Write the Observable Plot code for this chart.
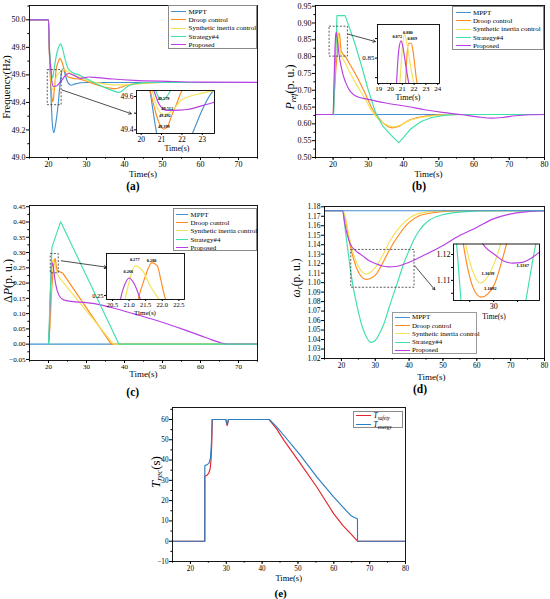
<!DOCTYPE html>
<html>
<head>
<meta charset="utf-8">
<script src="https://cdn.jsdelivr.net/npm/d3@7"></script>
<script src="https://cdn.jsdelivr.net/npm/@observablehq/plot@0.6"></script>
<style>
  body { margin: 0; background: white; }
  #fig { position: relative; width: 550px; height: 599px; background: white; overflow: hidden; font-family: "Liberation Serif", "Times New Roman", serif; }
  .lbl { position: absolute; white-space: nowrap; line-height: 1; color: black; }
  .lbl sub { font-size: 0.68em; vertical-align: -0.28em; line-height: 0; }
  .leg { position: absolute; background: white; box-sizing: border-box; font-family: "Liberation Serif", serif; color: black; }
  .leg .row { display: flex; align-items: center; white-space: nowrap; }
  .leg .sw { display: inline-block; flex: none; }
  .leg sub { font-size: 0.7em; vertical-align: -0.3em; line-height: 0; }
</style>
</head>
<body>
<div id="fig"></div>
<script>
// ---------------- series ----------------
const seriesNames = ["MPPT", "Droop control", "Synthetic inertia control", "Strategy#4", "Proposed"];
const seriesColors = ["#4391d1", "#ff8a1f", "#f3e258", "#3fe0aa", "#b83fe4"];

// (a) frequency (Hz) : [time, value]
const aMPPT = [[15,50],[20,50],[20.2,49.8],[20.43,49.636],[20.76,49.378],[21.0,49.25],[21.4,49.18],[21.8,49.23],[22.51,49.378],[23.0,49.52],[23.58,49.636],[23.9,49.645],[24.4,49.6],[25.2,49.54],[26,49.525],[27,49.535],[30,49.545],[75,49.545]];
const aDroop = [[15,50],[20,50],[20.15,49.82],[20.46,49.626],[20.62,49.546],[20.85,49.45],[21.1,49.405],[21.3,49.42],[21.44,49.466],[21.77,49.566],[22.0,49.636],[22.5,49.69],[23.0,49.72],[23.6,49.69],[24.3,49.625],[25.2,49.585],[26.5,49.575],[28,49.57],[30,49.555],[33,49.525],[36,49.505],[37.5,49.5],[39,49.51],[41,49.528],[45,49.54],[50,49.545],[75,49.545]];
const aSyn = [[15,50],[20,50],[20.2,49.82],[20.54,49.636],[20.8,49.53],[21.1,49.492],[21.35,49.5],[21.61,49.526],[21.94,49.576],[22.27,49.596],[23.0,49.62],[23.6,49.636],[24.2,49.64],[25,49.625],[26.5,49.6],[28,49.585],[30,49.56],[34,49.538],[37,49.527],[40,49.527],[44,49.536],[50,49.545],[75,49.545]];
const aStr = [[15,50],[20,50],[20.2,49.83],[20.45,49.7],[20.71,49.636],[20.88,49.59],[21.04,49.579],[21.2,49.59],[21.44,49.636],[21.8,49.7],[22.3,49.77],[22.9,49.815],[23.2,49.825],[23.6,49.8],[24.3,49.72],[25.2,49.645],[26.5,49.615],[28,49.6],[30,49.572],[33,49.53],[36,49.495],[38.6,49.473],[39.5,49.487],[40.5,49.51],[42,49.53],[44,49.54],[47,49.545],[75,49.545]];
const aProp = [[15,50],[20,50],[20.2,49.8],[20.62,49.636],[20.9,49.55],[21.28,49.516],[21.8,49.518],[22.27,49.522],[23,49.545],[23.6,49.566],[24.4,49.595],[25.35,49.61],[26.5,49.6],[28.4,49.575],[30.6,49.585],[33,49.58],[37,49.57],[42.5,49.56],[51.3,49.553],[60,49.548],[75,49.546]];

// (b) P_ref (p.u.)
const bMPPT = [[15,0.628],[80,0.628]];
const bDroop = [[15,0.628],[20,0.628],[20.3,0.68],[20.7,0.75],[21.0,0.79],[21.27,0.8175],[21.4,0.855],[21.55,0.869],[21.75,0.869],[21.9,0.86],[22.1,0.835],[22.26,0.8175],[22.6,0.81],[23.5,0.80],[24.5,0.782],[26.35,0.748],[29.2,0.688],[31.1,0.645],[33.9,0.606],[36.8,0.588],[38.5,0.592],[41.5,0.611],[46.2,0.623],[52,0.628],[80,0.628]];
const bSyn = [[15,0.628],[20,0.628],[20.25,0.7],[20.55,0.78],[20.79,0.8175],[21.0,0.862],[21.19,0.88],[21.4,0.868],[21.7,0.84],[21.98,0.8175],[22.5,0.8],[23.5,0.78],[24.5,0.758],[26.35,0.722],[29.2,0.672],[31,0.638],[33,0.612],[35,0.598],[37,0.591],[39,0.596],[41.5,0.609],[46,0.621],[52,0.627],[60,0.628],[80,0.628]];
const bStr = [[15,0.628],[20.15,0.628],[21.1,0.922],[23.4,0.922],[24.5,0.89],[26,0.845],[28,0.775],[30,0.70],[32,0.635],[34,0.595],[36.5,0.566],[38.6,0.544],[40,0.56],[42,0.585],[45,0.607],[48,0.619],[52,0.626],[56,0.628],[80,0.628]];
const bProp = [[15,0.628],[20,0.628],[20.2,0.7],[20.51,0.8175],[20.7,0.86],[20.9,0.872],[21.1,0.86],[21.3,0.84],[21.55,0.8175],[22,0.785],[22.5,0.76],[23,0.74],[23.5,0.725],[24.2,0.708],[25,0.695],[26.4,0.683],[30,0.673],[35,0.662],[41.5,0.651],[46,0.642],[51,0.634],[56.6,0.627],[61,0.621],[65,0.617],[68,0.619],[71.7,0.624],[76,0.627],[80,0.628]];

// (c) ΔP (p.u.)
const cMPPT = [[15,0],[75,0]];
const cDroop = [[20,0],[20.4,0.06],[20.8,0.17],[21.1,0.225],[21.27,0.2464],[21.45,0.264],[21.69,0.28],[21.85,0.277],[21.96,0.264],[22.11,0.2464],[22.5,0.24],[23.8,0.232],[36.5,0],[75,0]];
const cSyn = [[20,0],[20.3,0.06],[20.6,0.17],[20.88,0.2464],[21.0,0.262],[21.18,0.277],[21.4,0.273],[21.65,0.258],[21.91,0.2464],[22.3,0.23],[22.9,0.217],[37.1,0],[75,0]];
const cStr = [[20,0],[20.9,0.317],[23.2,0.401],[38.55,0],[75,0]];
const cProp = [[20,0],[20.2,0.04],[20.5,0.17],[20.74,0.2464],[20.87,0.26],[21.0,0.266],[21.15,0.261],[21.34,0.2464],[21.6,0.22],[22,0.19],[22.5,0.168],[23,0.155],[24,0.145],[26,0.14],[30,0.136],[34,0.128],[38,0.115],[42.5,0.099],[47,0.083],[51.3,0.066],[56,0.046],[60,0.028],[63,0.014],[65.5,0.004],[67,0],[75,0]];

// (d) ω_r (p.u.)
const dMPPT = [[15,1.1758],[80,1.1758]];
const dDroop = [[15,1.1758],[20.4,1.1758],[21.3,1.165],[22.3,1.144],[23.75,1.123],[25.2,1.11],[26.3,1.105],[27.4,1.1035],[28.8,1.1048],[30.2,1.1086],[32.1,1.12],[34.1,1.134],[37.1,1.151],[40,1.1635],[43,1.1705],[47,1.1737],[51.9,1.1755],[56,1.1758],[80,1.1758]];
const dSyn = [[15,1.1758],[20.4,1.1758],[21.3,1.167],[22.3,1.148],[23.75,1.128],[25.2,1.116],[26.2,1.111],[27.2,1.109],[28.6,1.111],[30.0,1.116],[32.1,1.128],[34.1,1.1425],[37.1,1.158],[40,1.168],[43,1.173],[47,1.175],[52,1.1758],[80,1.1758]];
const dStr = [[15,1.1758],[20.3,1.1758],[21.3,1.151],[22.3,1.123],[23.3,1.099],[24.7,1.074],[26.2,1.053],[27.5,1.042],[28.7,1.037],[30,1.039],[31.2,1.046],[32.7,1.058],[34.1,1.074],[35.6,1.09],[37.1,1.106],[38.5,1.121],[40,1.134],[41.5,1.146],[43,1.155],[46,1.166],[49.9,1.1716],[55.8,1.1747],[64.7,1.1758],[80,1.1758]];
const dProp = [[15,1.1758],[20.3,1.1758],[21,1.162],[21.7,1.151],[22.6,1.1408],[24.2,1.1338],[26.2,1.1285],[28.2,1.123],[30.2,1.12],[32.1,1.1175],[34,1.1167],[36,1.117],[40,1.1215],[45,1.13],[49.9,1.139],[54.8,1.1495],[59.8,1.158],[64.7,1.167],[69.7,1.1723],[74.6,1.1747],[80,1.1758]];

// (e) T_rec (s)
const eNames = ["T_safety", "T_energy"];
const eColors = ["#e3262b", "#2a7ec2"];
const eSafety = [[15,0],[24,0],[24.02,32],[24.6,32.5],[25.1,33.5],[25.5,35.7],[25.75,40],[25.95,48],[26.1,60],[29.9,60],[30.1,57.8],[30.25,57],[30.4,57.8],[30.6,60],[41.9,60],[44,55.5],[46.1,49.7],[50.7,38.2],[55.3,26.6],[60,13.5],[62.5,7.8],[64.7,3.7],[66.6,0],[80,0]];
const eEnergy = [[15,0],[24,0],[24.02,37.3],[24.6,37.6],[25.2,38.5],[25.6,41],[25.85,48],[26.05,60],[29.9,60],[30.1,58.5],[30.25,57.8],[30.4,58.5],[30.6,60],[42,60],[44,56.5],[46.1,52.1],[50.7,42.3],[55.3,31.6],[60,21.7],[64.7,12.7],[66.6,11],[66.62,0],[80,0]];

// zoom boxes, arrows (data coordinates) and inset value labels
const aBox = [{x1:19.8, x2:23.45, y1:49.38, y2:49.635}];
const aArrow = [{x1:23.6, y1:49.49, x2:41.8, y2:49.318}];
const aNotes = [{t:21.1, v:49.59, label:"49.579"},{t:21.28, v:49.53, label:"49.512"},{t:21.16, v:49.487, label:"49.492"},{t:21.11, v:49.42, label:"49.399"}];
const bBox = [{x1:19.0, x2:24.2, y1:0.80, y2:0.889}];
const bArrow = [{x1:24.3, y1:0.8667, x2:32.0, y2:0.8447}];
const bNotes = [{t:20.57, v:0.8776, label:"0.872"},{t:21.47, v:0.8828, label:"0.880"},{t:21.84, v:0.8755, label:"0.869"}];
const cBox = [{x1:20.6, x2:22.7, y1:0.232, y2:0.295}];
const cArrow = [{x1:23.36, y1:0.273, x2:35.3, y2:0.252}];
const cNotes = [{t:20.98, v:0.2715, label:"0.266"},{t:21.17, v:0.2825, label:"0.277"},{t:21.68, v:0.2818, label:"0.280"}];
const dBox = [{x1:22.9, x2:41.6, y1:1.0946, y2:1.1345}];
const dArrow = [{x1:41.6, y1:1.118, x2:47.6, y2:1.0925}];
const dNotes = [{t:28.8, v:1.1126, label:"1.1039"},{t:29.3, v:1.1068, label:"1.1092"},{t:36.1, v:1.1158, label:"1.1167"}];

// ---------------- drawing ----------------
const W = 550, H = 599;
const fig = document.getElementById("fig");
const FONT = '"Liberation Serif", "Times New Roman", serif';

function lineMark(data, color, curve, width) {
  return Plot.line(data, {x: d => d[0], y: d => d[1], stroke: color, strokeWidth: width || 1.15, curve: curve || "monotone-x", clip: true});
}

function panel(cfg) {
  const [fx0, fy0, fx1, fy1] = cfg.frame;
  const near = (arr, d) => arr.some(v => Math.abs(v - d) < 1e-9);
  const ts = cfg.tickSize || 3;
  const marks = [];
  if (cfg.inset) marks.push(Plot.frame({fill: "white", stroke: "none"}));
  marks.push(...cfg.marks);
  marks.push(Plot.frame({stroke: "black", strokeWidth: 0.9}));
  marks.push(Plot.axisX({ticks: cfg.xTicks, tickSize: ts, tickPadding: 1,
    tickFormat: d => (cfg.xLab ? (near(cfg.xLab, d) ? cfg.xFmt(d) : "") : cfg.xFmt(d)), label: null}));
  if (cfg.xMinor) marks.push(Plot.axisX({ticks: cfg.xMinor, tickSize: ts * 0.55, tickFormat: () => "", label: null}));
  marks.push(Plot.axisY({ticks: cfg.yTicks, tickSize: ts, tickPadding: 1,
    tickFormat: d => (cfg.yLab ? (near(cfg.yLab, d) ? cfg.yFmt(d) : "") : cfg.yFmt(d)), label: null}));
  if (cfg.yMinor) marks.push(Plot.axisY({ticks: cfg.yMinor, tickSize: ts * 0.55, tickFormat: () => "", label: null}));
  if (cfg.after) marks.push(...cfg.after);
  const svg = Plot.plot({
    width: W, height: H,
    marginLeft: fx0, marginTop: fy0, marginRight: W - fx1, marginBottom: H - fy1,
    x: {domain: cfg.x, label: null},
    y: {domain: cfg.y, label: null},
    style: {background: "transparent", fontFamily: FONT, fontSize: cfg.font + "px", color: "black", overflow: "visible", maxWidth: "none"},
    marks
  });
  svg.style.position = "absolute";
  svg.style.left = "0px";
  svg.style.top = "0px";
  fig.appendChild(svg);
}

function label(html, x, y, size, opts = {}) {
  const el = document.createElement("div");
  el.className = "lbl";
  el.innerHTML = html;
  el.style.left = x + "px";
  el.style.top = y + "px";
  el.style.fontSize = size + "px";
  if (opts.bold) el.style.fontWeight = "bold";
  el.style.transform = "translate(-50%,-50%)" + (opts.rotate ? " rotate(-90deg)" : "");
  fig.appendChild(el);
}

function legend(names, colors, box, opts = {}) {
  const [x0, y0, x1, y1] = box;
  const el = document.createElement("div");
  el.className = "leg";
  el.style.left = x0 + "px";
  el.style.top = y0 + "px";
  el.style.width = (x1 - x0) + "px";
  el.style.height = (y1 - y0) + "px";
  el.style.border = (opts.border || "0.8px solid #8a8a8a");
  el.style.paddingTop = (opts.padTop || 1.5) + "px";
  el.style.paddingLeft = (opts.padLeft || 2) + "px";
  el.style.fontSize = (opts.font || 7) + "px";
  names.forEach((n, i) => {
    const row = document.createElement("div");
    row.className = "row";
    row.style.height = (opts.rowH || 8.3) + "px";
    const sw = document.createElement("span");
    sw.className = "sw";
    sw.style.width = (opts.swW || 15) + "px";
    sw.style.borderTop = "1.5px solid " + colors[i];
    sw.style.marginRight = (opts.gap || 2.5) + "px";
    const tx = document.createElement("span");
    tx.innerHTML = (opts.fmt ? opts.fmt(n) : n);
    row.appendChild(sw);
    row.appendChild(tx);
    el.appendChild(row);
  });
  fig.appendChild(el);
}

function noteMarks(notes, size) {
  return [Plot.text(notes, {x: "t", y: "v", text: "label", fontSize: size, fontWeight: "bold", fill: "black"})];
}
function boxArrow(box, arrow) {
  return [
    Plot.rect(box, {x1: "x1", x2: "x2", y1: "y1", y2: "y2", fill: "none", stroke: "#333", strokeWidth: 0.8, strokeDasharray: "2,1.6"}),
    Plot.arrow(arrow, {x1: "x1", y1: "y1", x2: "x2", y2: "y2", stroke: "#222", strokeWidth: 0.8, headLength: 5})
  ];
}

const f1 = d3.format(".1f"), f2 = d3.format(".2f"), f0 = d3.format("d");
const mids = (a, b, s) => d3.range(a, b + 1e-9, s);

// ----- (a) -----
const aSeries = [aMPPT, aDroop, aSyn, aStr, aProp];
panel({
  frame: [29, 5, 257, 157], x: [15, 75], y: [49.0, 50.104], font: 8,
  xTicks: mids(20, 70, 10), xFmt: f0, xMinor: mids(15, 75, 5),
  yTicks: mids(49.0, 50.0, 0.2), yFmt: f1, yMinor: mids(49.1, 50.1, 0.2),
  marks: [...aSeries.map((s, i) => lineMark(s, seriesColors[i])), ...boxArrow(aBox, aArrow)]
});
panel({
  inset: true, frame: [136, 90, 214, 133], x: [19.77, 23.6], y: [49.378, 49.636], font: 7.5, tickSize: 2,
  xTicks: [20, 21, 22, 23], xFmt: f0, yTicks: [49.4, 49.5, 49.6], yLab: [49.4, 49.6], yFmt: f1,
  marks: aSeries.map((s, i) => lineMark(s, seriesColors[i])),
  after: noteMarks(aNotes, 4.3)
});

// ----- (b) -----
const bSeries = [bMPPT, bDroop, bSyn, bStr, bProp];
panel({
  frame: [315, 5, 544, 157], x: [15, 80], y: [0.50, 0.952], font: 8,
  xTicks: mids(20, 80, 10), xFmt: f0, xMinor: mids(15, 80, 5),
  yTicks: mids(0.50, 0.95, 0.05), yFmt: f2, yMinor: mids(0.525, 0.95, 0.05),
  marks: [...bSeries.map((s, i) => lineMark(s, seriesColors[i], i === 3 ? "linear" : "monotone-x")), ...boxArrow(bBox, bArrow)]
});
panel({
  inset: true, frame: [377, 24, 439, 83], x: [18.9, 24.15], y: [0.8175, 0.893], font: 7, tickSize: 2,
  xTicks: [19, 20, 21, 22, 23, 24], xFmt: f0, yTicks: [0.825, 0.85, 0.875], yLab: [0.85], yFmt: f2,
  marks: [bDroop, bSyn, bProp].map((s, i) => lineMark(s, seriesColors[[1, 2, 4][i]])),
  after: noteMarks(bNotes, 4.3)
});

// ----- (c) -----
const cSeries = [cMPPT, cDroop, cSyn, cStr, cProp];
const cOrder = [0, 1, 2, 4, 3];
panel({
  frame: [29, 205, 257, 360], x: [15, 75], y: [-0.0535, 0.454], font: 7,
  xTicks: mids(20, 70, 10), xFmt: f0, xMinor: mids(15, 75, 5),
  yTicks: mids(-0.05, 0.45, 0.05), yFmt: f2, yMinor: mids(-0.025, 0.45, 0.05),
  marks: [...cOrder.map(i => lineMark(cSeries[i], seriesColors[i], i === 4 ? "monotone-x" : "linear")), ...boxArrow(cBox, cArrow)]
});
panel({
  inset: true, frame: [106, 253, 184, 299], x: [20.32, 22.67], y: [0.2464, 0.2883], font: 6.5, tickSize: 2,
  xTicks: [20.5, 21, 21.5, 22, 22.5], xFmt: f1, yTicks: [0.25, 0.275], yLab: [0.25], yFmt: f2,
  marks: [cDroop, cSyn, cProp].map((s, i) => lineMark(s, seriesColors[[1, 2, 4][i]], "monotone-x")),
  after: noteMarks(cNotes, 4.3)
});

// ----- (d) -----
const dSeries = [dMPPT, dDroop, dSyn, dStr, dProp];
const dOrder = [1, 2, 3, 4, 0];
panel({
  frame: [324, 206, 544, 358], x: [15, 80], y: [1.02, 1.1803], font: 7.5,
  xTicks: mids(20, 80, 10), xFmt: f0, xMinor: mids(15, 80, 5),
  yTicks: mids(1.02, 1.18, 0.01), yFmt: f2,
  marks: [...dOrder.map(i => lineMark(dSeries[i], seriesColors[i])), ...boxArrow(dBox, dArrow)]
});
panel({
  inset: true, frame: [453, 243.5, 539, 300], x: [21.6, 39.6], y: [1.1022, 1.1241], font: 8, tickSize: 2,
  xTicks: [25, 30, 35], xLab: [30], xFmt: f0, yTicks: [1.105, 1.11, 1.115, 1.12], yLab: [1.11, 1.12], yFmt: f2,
  marks: [dDroop, dSyn, dStr, dProp].map((s, i) => lineMark(s, seriesColors[[1, 2, 3, 4][i]])),
  after: noteMarks(dNotes, 4.6)
});

// ----- (e) -----
panel({
  frame: [172, 407, 405, 561], x: [15, 80], y: [-10, 65.9], font: 7.2,
  xTicks: mids(20, 80, 10), xFmt: f0, xMinor: mids(15, 80, 5),
  yTicks: mids(-10, 60, 10), yFmt: f0, yMinor: mids(-5, 65, 10),
  marks: [lineMark(eSafety, eColors[0], "linear"), lineMark(eEnergy, eColors[1], "linear")]
});

// ----- legends -----
legend(seriesNames, seriesColors, [168, 5, 257, 49]);
legend(seriesNames, seriesColors, [452, 6, 544, 49.5], {padLeft: 2.5});
legend(seriesNames, seriesColors, [173, 207.5, 256.5, 250.5], {font: 6.9, swW: 12});
legend(seriesNames, seriesColors, [391.5, 311.5, 477, 354], {border: "1.6px solid #9a9a9a", padTop: 0.6, swW: 15});
const eFmt = n => { const [a, b] = n.split("_"); return "<i>" + a + "</i><sub><i>" + b + "</i></sub>"; };
legend(eNames, eColors, [353, 410.5, 403, 428], {font: 7.5, fmt: eFmt, padTop: 0.3, swW: 15, rowH: 8.2});

// ----- axis titles & panel tags -----
label("Frequency(Hz)", 6.5, 87, 10.5, {rotate: true});
label("Time(s)", 143, 173.5, 9);
label("(a)", 133, 187, 11.5, {bold: true});
label("Time(s)", 177, 148.5, 8);

label("<i>P</i><sub><i>ref</i></sub>(p. u.)", 290, 87, 12, {rotate: true});
label("Time(s)", 428.5, 173.5, 9);
label("(b)", 419, 187, 11.5, {bold: true});
label("Time(s)", 408, 98, 8);

label("Δ<i>P</i>(p. u.)", 7.5, 281, 12, {rotate: true});
label("Time(s)", 143.3, 374, 9);
label("(c)", 132.7, 392.5, 11.5, {bold: true});
label("Time(s)", 145, 312.5, 7);

label("<i>ω</i><sub><i>r</i></sub>(p. u.)", 296.5, 278, 11.5, {rotate: true});
label("Time(s)", 431.3, 376.5, 9);
label("(d)", 420, 390, 11.5, {bold: true});
label("Time(s)", 494, 317, 7.5);

label("<i>T</i><sub><i>rec</i></sub>(s)", 155, 472, 13, {rotate: true});
label("Time(s)", 288.7, 577.5, 8.5);
label("(e)", 280.7, 592.5, 11, {bold: true});
</script>
</body>
</html>
